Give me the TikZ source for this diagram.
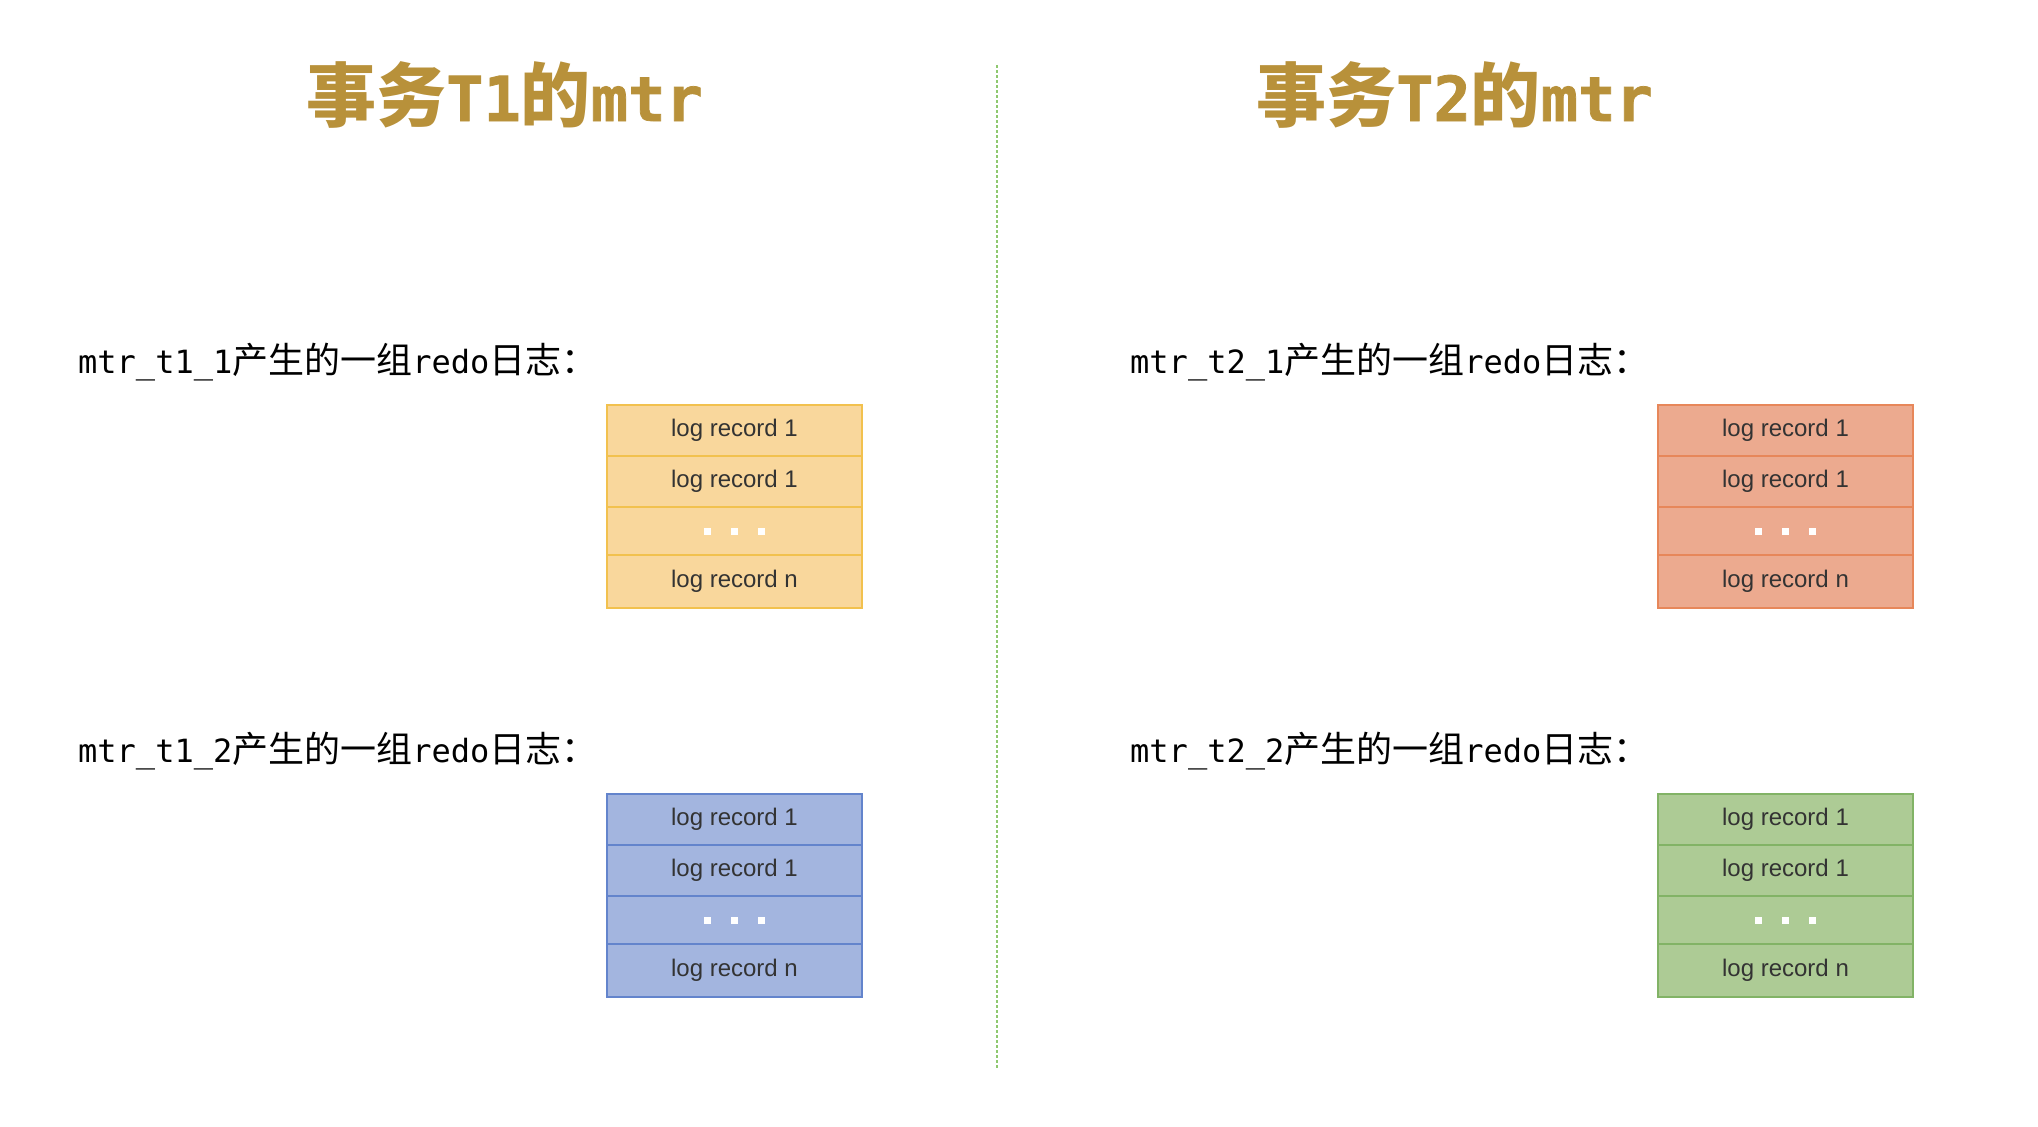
\documentclass[tikz,border=0pt]{standalone}
\usepackage{fontspec}
\setmainfont{Liberation Sans}
\newfontfamily\cjkf{Noto Sans CJK SC}
\newfontfamily\monof{DejaVu Sans Mono}
\newfontfamily\monobf[FakeBold=1.2]{DejaVu Sans Mono Bold}
\definecolor{titlegold}{HTML}{B8913A}
\definecolor{cellText}{HTML}{333333}
\definecolor{yfill}{HTML}{F9D79C}
\definecolor{ydraw}{HTML}{F2C14E}
\definecolor{rfill}{HTML}{ECAA8F}
\definecolor{rdraw}{HTML}{E7875A}
\definecolor{bfill}{HTML}{A3B5DF}
\definecolor{bdraw}{HTML}{6384CC}
\definecolor{gfill}{HTML}{ADCB95}
\definecolor{gdraw}{HTML}{82B366}
\definecolor{divgreen}{HTML}{8FC870}
\newcommand\tcjk{\cjkf\bfseries\fontsize{70bp}{80bp}\selectfont}
\newcommand\tlat{\monobf\fontsize{62bp}{80bp}\selectfont}
\newcommand\lcjk{\cjkf\fontsize{36bp}{42bp}\selectfont}
\newcommand\llat{\monof\fontsize{32bp}{42bp}\selectfont}
\newcommand\logstack[5]{%
  \node[cell, fill=#4, draw=#5, minimum height=51bp, anchor=north] (#1a) at (#2,#3) {log record 1};
  \node[cell, fill=#4, draw=#5, minimum height=51bp, anchor=north] (#1b) at (#1a.south) {log record 1};
  \node[cell, fill=#4, draw=#5, minimum height=48bp, anchor=north] (#1c) at (#1b.south) {};
  \node[cell, fill=#4, draw=#5, minimum height=53bp, anchor=north] (#1d) at (#1c.south) {log record n};
  \node[dotsq] (#1p) at ([xshift=-27bp]#1c.center) {};
  \node[dotsq] (#1q) at (#1c.center) {};
  \node[dotsq] (#1r) at ([xshift=27bp]#1c.center) {};
}
\begin{document}
\begin{tikzpicture}[x=1bp,y=-1bp,
  cell/.style={rectangle, line width=2bp, minimum width=255bp, inner sep=0pt, outer sep=0pt,
    text=cellText, font=\fontsize{24bp}{28bp}\selectfont},
  dotsq/.style={rectangle, fill=white, draw=none, minimum size=7bp, inner sep=0pt},
  titletext/.style={anchor=base west, inner sep=0pt, text=titlegold},
  labeltext/.style={anchor=base west, inner sep=0pt, text=black},
  divider/.style={draw=divgreen, line width=1.5bp, dash pattern=on 3bp off 2bp}]
\fill[white] (0,0) rectangle (2038,1126);
\useasboundingbox (0,0) rectangle (2038,1126);

% titles
\node[titletext] (title1) at (306,121) {{\tcjk 事务}{\tlat T1}{\tcjk 的}{\tlat mtr}};
\node[titletext] (title2) at (1256,121) {{\tcjk 事务}{\tlat T2}{\tcjk 的}{\tlat mtr}};

% divider
\coordinate (divtop) at (997,65);
\coordinate (divbot) at (997,1070);
\draw[divider] (divtop) -- (divbot);

% labels
\node[labeltext] (lab11) at (78,373) {{\llat mtr\_t1\_1}{\lcjk 产生的一组}{\llat redo}{\lcjk 日志：}};
\node[labeltext] (lab12) at (78,762) {{\llat mtr\_t1\_2}{\lcjk 产生的一组}{\llat redo}{\lcjk 日志：}};
\node[labeltext] (lab21) at (1130,373) {{\llat mtr\_t2\_1}{\lcjk 产生的一组}{\llat redo}{\lcjk 日志：}};
\node[labeltext] (lab22) at (1130,762) {{\llat mtr\_t2\_2}{\lcjk 产生的一组}{\llat redo}{\lcjk 日志：}};

% stacks
\logstack{ya}{734.5}{405}{yfill}{ydraw}
\logstack{ba}{734.5}{794}{bfill}{bdraw}
\logstack{ra}{1785.5}{405}{rfill}{rdraw}
\logstack{ga}{1785.5}{794}{gfill}{gdraw}
\end{tikzpicture}
\end{document}
